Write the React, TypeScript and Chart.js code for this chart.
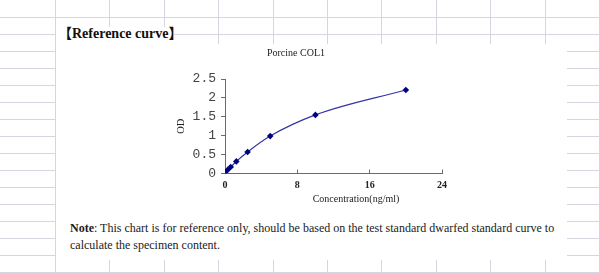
import React, { useEffect, useRef } from "react";
import { Chart, registerables } from "chart.js";

Chart.register(...registerables);

const chartTitle = "Porcine COL1";
const xAxisTitle = "Concentration(ng/ml)";
const yAxisTitle = "OD";
const concentrations = [0, 0.31, 0.63, 1.25, 2.5, 5, 10, 20];
const odValues = [0.03, 0.1, 0.17, 0.32, 0.57, 0.99, 1.55, 2.21];
const xTickValues = [0, 8, 16, 24];
const yTickValues = [0, 0.5, 1, 1.5, 2, 2.5];

const GRID = "#d6d6e2";
const SERIF = "'Liberation Serif', 'Times New Roman', 'Noto Sans CJK SC', serif";

function GridLines() {
  const lines: React.ReactNode[] = [];
  for (let k = 1; k <= 16; k++) {
    const y = Math.round(k * 17);
    lines.push(
      <div key={"r" + k} style={{ position: "absolute", left: 0, top: y, width: 600, height: 1, background: GRID }} />
    );
  }
  for (let k = 0; k <= 10; k++) {
    const x = Math.round(55 + k * 54.4);
    lines.push(
      <div key={"c" + k} style={{ position: "absolute", left: x, top: 0, width: 1, height: 273, background: GRID }} />
    );
  }
  return <>{lines}</>;
}

export default function App() {
  const canvasRef = useRef<HTMLCanvasElement | null>(null);

  useEffect(() => {
    document.body.style.margin = "0";
    const canvas = canvasRef.current;
    if (!canvas) return;
    const chart = new Chart(canvas, {
      type: "scatter",
      data: {
        datasets: [
          {
            data: concentrations.map((x, i) => ({ x, y: odValues[i] })),
            showLine: true,
            borderColor: "#3434a4",
            borderWidth: 1.2,
            backgroundColor: "#000080",
            pointBackgroundColor: "#000080",
            pointBorderColor: "#000080",
            pointStyle: "rectRot",
            pointRadius: 3.3,
            pointBorderWidth: 0,
            cubicInterpolationMode: "monotone",
          },
        ],
      },
      options: {
        responsive: false,
        animation: false,
        devicePixelRatio: 1,
        layout: { padding: { left: 0, right: 28, top: 0, bottom: 0 } },
        plugins: {
          legend: { display: false },
          tooltip: { enabled: false },
          title: {
            display: true,
            text: chartTitle,
            color: "#222",
            font: { family: SERIF, size: 10, weight: "normal" },
            padding: { top: 3, bottom: 20 },
          },
        },
        scales: {
          x: {
            type: "linear",
            min: 0,
            max: 24,
            afterBuildTicks: (scale: any) => {
              scale.ticks = xTickValues.map((v) => ({ value: v }));
            },
            afterFit: (scale: any) => {
              scale.height = 35.5;
            },
            border: { display: true, color: "#6a6a6a", width: 1 },
            grid: { drawOnChartArea: false, drawTicks: true, tickLength: -4, color: "#6a6a6a" },
            ticks: {
              padding: 10,
              color: "#222",
              font: { family: SERIF, size: 10, weight: "bold" },
              maxRotation: 0,
            },
          },
          y: {
            type: "linear",
            min: 0,
            max: 2.5,
            afterBuildTicks: (scale: any) => {
              scale.ticks = yTickValues.map((v) => ({ value: v }));
            },
            afterFit: (scale: any) => {
              scale.width = 75;
            },
            border: { display: true, color: "#6a6a6a", width: 1 },
            grid: { drawOnChartArea: false, drawTicks: true, tickLength: 4, color: "#6a6a6a" },
            ticks: {
              padding: 5,
              color: "#444",
              font: { family: "'Liberation Mono', monospace", size: 13 },
              callback: (v: any) => String(v),
            },
            title: {
              display: true,
              text: yAxisTitle,
              color: "#222",
              font: { family: SERIF, size: 10.5 },
              padding: { top: 25, bottom: 0 },
            },
          },
        },
      } as any,
    });
    return () => chart.destroy();
  }, []);

  return (
    <div style={{ position: "absolute", left: 0, top: 0, width: 600, height: 273, overflow: "hidden", background: "#fff" }}>
      <GridLines />
      <div style={{ position: "absolute", left: 56, top: 44, width: 511, height: 216, background: "#fff" }} />
      <div style={{ position: "absolute", left: 56, top: 27, width: 118, height: 17, background: "#fff" }} />
      <div
        style={{
          position: "absolute",
          left: 58,
          top: 25,
          fontFamily: SERIF,
          fontWeight: "bold",
          fontSize: 14,
          lineHeight: "17px",
          color: "#111",
          whiteSpace: "nowrap",
        }}
      >
        【Reference curve】
      </div>
      <canvas ref={canvasRef} width={320} height={165} style={{ position: "absolute", left: 150, top: 44, width: 320, height: 165 }} />
      <div
        style={{
          position: "absolute",
          left: 256,
          top: 193,
          width: 200,
          textAlign: "center",
          fontFamily: SERIF,
          fontSize: 10,
          lineHeight: "12px",
          color: "#222",
          whiteSpace: "nowrap",
        }}
      >
        {xAxisTitle}
      </div>
      <div
        style={{
          position: "absolute",
          left: 70,
          top: 220,
          fontFamily: SERIF,
          fontSize: 12,
          lineHeight: "17px",
          color: "#1a1a1a",
          whiteSpace: "nowrap",
        }}
      >
        <b>Note</b>: This chart is for reference only, should be based on the test standard dwarfed standard curve to
        <br />
        calculate the specimen content.
      </div>
    </div>
  );
}
